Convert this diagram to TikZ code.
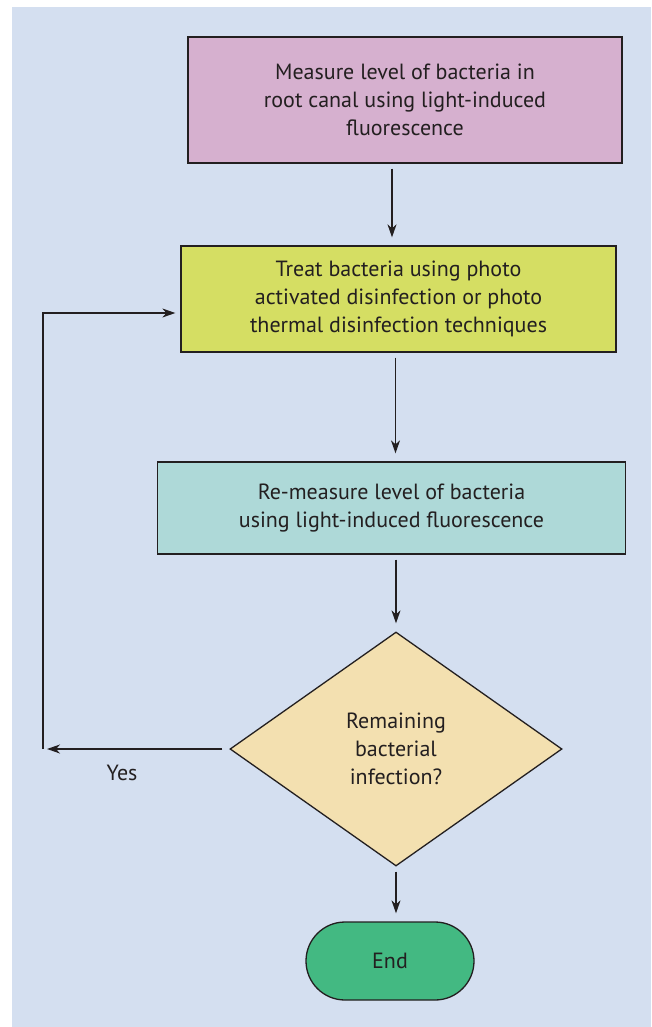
\documentclass[tikz,border=0pt]{standalone}
\usepackage{fontspec}
\setmainfont{PT Sans}
\usetikzlibrary{arrows.meta, shapes.geometric}
\usepackage{xcolor}

\definecolor{bgblue}{HTML}{D4DFF0}
\definecolor{measurepink}{HTML}{D6B0CF}
\definecolor{treatgreen}{HTML}{D5DE63}
\definecolor{remeasureteal}{HTML}{AED9D8}
\definecolor{checksand}{HTML}{F3E0B0}
\definecolor{endgreen}{HTML}{43B982}
\definecolor{ink}{HTML}{231F20}

\begin{document}
\begin{tikzpicture}[
  x=1pt, y=-1pt,
  font=\fontsize{22}{28}\selectfont,
  text=ink,
  >={Stealth[length=13pt, width=9pt, inset=4pt]},
  box/.style={draw=ink, line width=1.3pt, align=center, inner sep=0pt},
  link/.style={->, draw=ink, line width=1.3pt, shorten <=5pt, shorten >=8pt},
]
  \useasboundingbox (0,0) rectangle (651,1027);
  \fill[bgblue] (12,7) rectangle (651,1027);

  \node[box, fill=measurepink, minimum width=434pt, minimum height=126pt] (measure) at (405,100)
    {Measure level of bacteria in\\root canal using light-induced\\fluorescence};
  \node[box, fill=treatgreen, minimum width=435pt, minimum height=106pt] (treat) at (398.5,299)
    {Treat bacteria using photo\\activated disinfection or photo\\thermal disinfection techniques};
  \node[box, fill=remeasureteal, minimum width=468pt, minimum height=92pt] (remeasure) at (391.5,508)
    {Re-measure level of bacteria\\using light-induced fluorescence};
  \node[box, diamond, fill=checksand, aspect=1.42, minimum width=332pt, minimum height=234pt] (check) at (396,749)
    {Remaining\\bacterial\\infection?};
  \node[box, fill=endgreen, rounded corners=39pt, minimum width=168pt, minimum height=78pt] (end) at (390,961)
    {End};
  \node (yes) at (122,773) {Yes};

  \coordinate (loop) at (43,749);
  \coordinate (back) at (43,313);

  \draw[link] ([xshift=-13pt]measure.south) -- ([xshift=-13pt]measure.south |- treat.north);
  \draw[link] ([xshift=-3pt]treat.south) -- ([xshift=-3pt]treat.south |- remeasure.north);
  \draw[link] (remeasure.south -| check.north) -- (check.north);
  \draw[link] (check.south) -- (check.south |- end.north);
  \draw[link, shorten <=7pt, shorten >=4pt] (check.west) -- (loop);
  \draw[link, shorten <=0pt, shorten >=5pt] (loop) -- (back) -- (back -| treat.west);
\end{tikzpicture}
\end{document}
